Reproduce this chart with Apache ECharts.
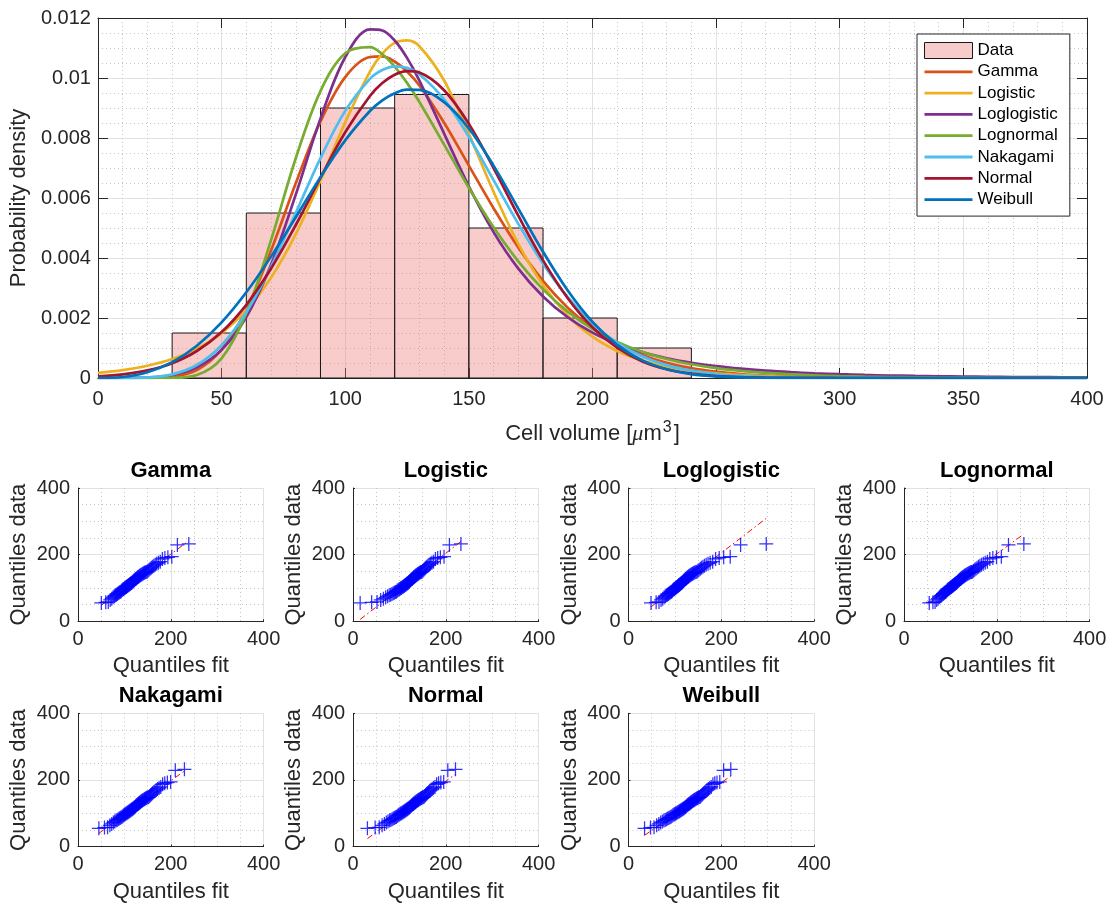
<!DOCTYPE html>
<html><head><meta charset="utf-8">
<script src="https://cdn.jsdelivr.net/npm/echarts@6/dist/echarts.min.js"></script>
<style>html,body{margin:0;padding:0;background:#fff}#c{width:1114px;height:909px}</style>
</head><body><div id="c"></div>
<script>
// ---------------- data ----------------
const binEdges = [30, 60, 90, 120, 150, 180, 210, 240];
const binDensity = [0.0015, 0.0055, 0.009, 0.00945, 0.005, 0.002, 0.001];

const xs = [0,10,20,30,40,50,60,70,80,90,100,110,115,120,125,130,140,150,160,170,180,190,200,210,220,230,240,250,260,270,280,290,300,310,320,330,340,350,360,370,380,390,400];

const pdfGamma = [0,0,0.000002,0.000041,0.000266,0.000945,0.002287,0.004248,0.00649,0.008552,0.01003,0.0107,0.010722,0.01055,0.010217,0.00975,0.00851,0.00708,0.00566,0.00435,0.00324,0.00234,0.00165,0.001135,0.000765,0.000505,0.000328,0.00021,0.000132,0.000082,0.00005,0.00003,0.000018,0.000011,0.000006,0.000004,0.000002,0.000001,0,0,0,0,0];
const pdfLogistic = [0.000168,0.000262,0.000409,0.000634,0.000979,0.001498,0.002261,0.003342,0.004795,0.006584,0.00852,0.010212,0.010811,0.01117,0.011256,0.011058,0.009917,0.008137,0.006206,0.004474,0.003098,0.002085,0.001377,0.000898,0.000581,0.000374,0.00024,0.000153,0.000098,0.000063,0.00004,0.000025,0.000016,0.00001,0.0000066,0.0000042,0.0000027,0.0000017,0.000001,0.0000007,0.0000004,0.0000003,0.0000002];
const pdfLoglogistic = [0,0.0000008,0.000017,0.000101,0.000356,0.000939,0.002034,0.003778,0.006112,0.008647,0.010692,0.01162,0.011585,0.01125,0.01067,0.009914,0.008148,0.006387,0.004864,0.003646,0.002717,0.002024,0.001514,0.001139,0.000863,0.00066,0.000509,0.000395,0.00031,0.000245,0.000195,0.000156,0.000126,0.000102,0.000084,0.000069,0.000057,0.000047,0.00004,0.000033,0.000028,0.000024,0.00002];
const pdfLognormal = [0,0,0,0.000004,0.000098,0.000656,0.002159,0.004597,0.007326,0.009565,0.010826,0.011029,0.010793,0.010381,0.009837,0.0092,0.007779,0.00634,0.005021,0.003887,0.002953,0.002213,0.001639,0.001202,0.000876,0.000634,0.000458,0.000329,0.000236,0.000169,0.000121,0.000086,0.000062,0.000044,0.000032,0.000023,0.000016,0.000012,0.000008,0.000006,0.000004,0.000003,0.000002];
const pdfNakagami = [0,0.0000007,0.000019,0.000122,0.000434,0.001093,0.002189,0.003708,0.005502,0.007331,0.008903,0.009973,0.010265,0.010389,0.010337,0.010126,0.009286,0.008041,0.006595,0.005139,0.003809,0.002693,0.001818,0.001173,0.000726,0.00043,0.000244,0.000133,0.00007,0.000035,0.000017,0.0000079,0.0000035,0.0000015,0.0000006,0.0000002,0.0000001,0,0,0,0,0,0];
const pdfNormal = [0.000055,0.000123,0.000254,0.000494,0.0009,0.00153,0.00244,0.00365,0.0051,0.00668,0.00819,0.0094,0.009831,0.01011,0.010227,0.01018,0.00959,0.00847,0.007,0.00541,0.00392,0.00266,0.00169,0.00101,0.00056,0.00029,0.000143,0.000065,0.000028,0.000011,0.000004,0.0000015,0.0000005,0,0,0,0,0,0,0,0,0,0];
const pdfWeibull = [0,0.000034,0.000193,0.000529,0.001077,0.001854,0.002857,0.004046,0.005359,0.006696,0.007922,0.0089,0.009252,0.009492,0.009612,0.009603,0.009197,0.008317,0.007079,0.005647,0.004207,0.002915,0.00187,0.001104,0.000597,0.000294,0.000132,0.000053,0.000019,0.000006,0.000002,0,0,0,0,0,0,0,0,0,0,0,0];

// sorted sample (quantiles of data)
const dataQuantiles = [55,57,58,64,68,72,75,78,80,82,84,86,88,89,92,94,96,97,99,100,102,103,105,106,108,109,111,112,114,115,117,119,121,123,125,127,128,130,132,133,135,137,138,140,141,143,144,146,147,148,149,152,155,158,161,164,167,170,173,176,179,187,190,192,194,229,232];

// fitted-distribution quantiles (x of each QQ plot)
const fitGamma = [50.3,59.8,65.3,69.4,72.7,75.6,78.2,80.6,82.8,84.8,86.7,88.6,90.3,92.1,93.7,95.3,96.9,98.4,99.9,101.4,102.9,104.3,105.7,107.1,108.5,109.9,111.3,112.7,114.1,115.5,116.9,118.3,119.7,121.1,122.5,124.0,125.4,126.9,128.3,129.9,131.4,133.0,134.6,136.2,137.9,139.6,141.3,143.2,145.0,147.0,149.0,151.1,153.3,155.6,158.1,160.7,163.5,166.4,169.7,173.3,177.3,181.9,187.2,193.7,202.1,214.2,238.8];
const fitLogistic = [15.4,40.2,51.8,59.7,65.6,70.4,74.5,78.0,81.2,84.0,86.6,89.1,91.3,93.4,95.4,97.3,99.2,100.9,102.6,104.2,105.8,107.4,108.9,110.3,111.8,113.2,114.6,116.0,117.3,118.7,120.0,121.3,122.7,124.0,125.3,126.7,128.0,129.3,130.7,132.0,133.4,134.8,136.2,137.7,139.1,140.6,142.2,143.8,145.4,147.1,148.8,150.7,152.6,154.6,156.7,158.9,161.4,164.0,166.8,170.0,173.5,177.6,182.4,188.3,196.2,207.8,232.6];
const fitLoglogistic = [48.5,59.6,65.7,70.2,73.7,76.7,79.4,81.8,84.0,86.0,87.9,89.7,91.4,93.0,94.6,96.1,97.5,99.0,100.4,101.8,103.1,104.4,105.8,107.1,108.4,109.7,110.9,112.2,113.5,114.8,116.1,117.4,118.7,120.0,121.3,122.7,124.0,125.4,126.9,128.3,129.8,131.3,132.8,134.5,136.1,137.9,139.7,141.5,143.4,145.5,147.7,149.8,152.2,154.8,157.5,160.5,163.8,167.4,171.4,176.0,181.4,187.7,195.4,205.1,219.2,241.6,296.9];
const fitLognormal = [54.4,62.4,67.0,70.5,73.4,76.0,78.2,80.3,82.3,84.1,85.9,87.5,89.1,90.7,92.2,93.7,95.2,96.6,98.0,99.4,100.8,102.2,103.5,104.9,106.2,107.6,108.9,110.3,111.6,113.0,114.4,115.7,117.2,118.6,119.9,121.5,122.9,124.4,125.9,127.4,129.1,130.6,132.3,134.0,135.8,137.5,139.4,141.4,143.4,145.5,147.6,150.0,152.4,155.0,157.7,160.6,163.6,167.1,170.8,175.0,179.7,184.9,191.5,199.3,209.8,225.2,258.3];
const fitNakagami = [45.0,57.1,63.8,68.7,72.7,76.2,79.2,81.9,84.4,86.7,88.9,91.0,92.9,94.8,96.7,98.4,100.1,101.8,103.4,105.0,106.6,108.1,109.6,111.1,112.6,114.0,115.5,116.9,118.3,119.8,121.2,122.6,124.1,125.5,126.9,128.4,129.8,131.3,132.7,134.2,135.8,137.3,138.8,140.4,142.1,143.7,145.4,147.1,148.9,150.8,152.6,154.6,156.7,158.8,161.1,163.5,166.0,168.7,171.6,174.8,178.4,182.4,187.0,192.6,199.6,209.7,229.4];
const fitNormal = [31.1,47.7,56.5,62.7,67.6,71.8,75.3,78.6,81.5,84.2,86.7,89.0,91.3,93.4,95.4,97.4,99.2,101.0,102.8,104.5,106.2,107.9,109.5,111.1,112.6,114.1,115.7,117.2,118.7,120.2,121.6,123.1,124.6,126.0,127.4,128.9,130.4,131.8,133.3,134.8,136.3,137.9,139.4,140.9,142.5,144.1,145.8,147.5,149.2,151.0,152.8,154.6,156.6,158.6,160.7,163.0,165.3,167.8,170.5,173.4,176.7,180.2,184.4,189.3,195.5,204.3,220.9];
const fitWeibull = [34.6,47.4,55.0,60.7,65.4,69.4,72.9,76.2,79.1,81.9,84.4,86.9,89.2,91.4,93.5,95.6,97.6,99.5,101.4,103.2,105.0,106.7,108.5,110.1,111.8,113.5,115.1,116.7,118.3,119.8,121.4,123.0,124.5,126.1,127.6,129.2,130.7,132.3,133.9,135.4,137.0,138.6,140.2,141.9,143.5,145.2,146.9,148.7,150.5,152.3,154.2,156.1,158.1,160.2,162.3,164.6,167.0,169.5,172.2,175.1,178.3,181.9,186.0,190.7,196.7,205.0,220.4];

// reference lines (quartile lines), [x, y] end points in data units
const refGamma = [[50.3, 48.1], [238.8, 241.3]];
const refLogistic = [[15.4, 5.7], [232.6, 239.4]];
const refLoglogistic = [[48.5, 43.3], [296.9, 308.9]];
const refLognormal = [[54.4, 54.5], [258.3, 261.8]];
const refNakagami = [[45.0, 39.9], [229.4, 227.1]];
const refNormal = [[31.1, 24.0], [220.9, 217.3]];
const refWeibull = [[34.6, 34.0], [220.4, 211.7]];

const distNames = ['Gamma','Logistic','Loglogistic','Lognormal','Nakagami','Normal','Weibull'];
const distColors = ['#D95319','#EDB120','#7E2F8E','#77AC30','#4DBEEE','#A2142F','#0072BD'];
const pdfs = [pdfGamma,pdfLogistic,pdfLoglogistic,pdfLognormal,pdfNakagami,pdfNormal,pdfWeibull];
const fits = [fitGamma,fitLogistic,fitLoglogistic,fitLognormal,fitNakagami,fitNormal,fitWeibull];
const refs = [refGamma,refLogistic,refLoglogistic,refLognormal,refNakagami,refNormal,refWeibull];

// ---------------- chart ----------------
const FONT = '"Liberation Sans", Arial, Helvetica, sans-serif';
const AX = '#262626';
const GRIDC = '#e2e2e2';
const MINORC = '#c4c4c4';
const PINK = 'rgba(240,120,120,0.38)';
const chart = echarts.init(document.getElementById('c'), null, {renderer: 'canvas', width: 1114, height: 909});

const grids = [{left: 95, top: 18, width: 992, height: 360}];
const qqLayout = [[78, 488], [353, 488], [628.5, 488], [904, 488], [78, 713.3], [353, 713.3], [628.5, 713.3]];
const QW = 185.6, QH = 133.3;
qqLayout.forEach(([l, t]) => grids.push({left: l, top: t, width: QW, height: QH}));

const xAxes = [
  {gridIndex: 0, type: 'value', min: 0, max: 400, interval: 50, position: 'bottom',
   axisLine: {show: true, onZero: false, lineStyle: {color: AX, width: 1}},
   axisTick: {show: true, inside: true, length: 10, lineStyle: {color: AX}},
   axisLabel: {fontSize: 20, color: AX, margin: 11, fontFamily: FONT},
   splitLine: {show: true, lineStyle: {color: GRIDC, width: 1}},
   minorTick: {show: false, splitNumber: 5},
   minorSplitLine: {show: true, lineStyle: {color: MINORC, width: 1, type: [1, 3]}},
   name: 'Cell volume [{mu|μ}m{sup|3}]', nameLocation: 'middle', nameGap: 42,
   nameTextStyle: {fontSize: 22, color: AX, fontFamily: FONT,
     rich: {mu: {fontSize: 22, fontStyle: 'italic', fontFamily: '"Liberation Serif", serif', color: AX},
            sup: {fontSize: 16, color: AX, fontFamily: FONT, verticalAlign: 'top', padding: [0, 2, 12, 1]}}}},
  {gridIndex: 0, type: 'value', min: 0, max: 400, interval: 50, position: 'top',
   axisLine: {show: true, onZero: false, lineStyle: {color: AX, width: 1}},
   axisTick: {show: true, inside: true, length: 10, lineStyle: {color: AX}},
   axisLabel: {show: false}, splitLine: {show: false}}
];
const yAxes = [
  {gridIndex: 0, type: 'value', min: 0, max: 0.012, interval: 0.002, position: 'left',
   axisLine: {show: true, onZero: false, lineStyle: {color: AX, width: 1}},
   axisTick: {show: true, inside: true, length: 10, lineStyle: {color: AX}},
   axisLabel: {fontSize: 20, color: AX, margin: 7, fontFamily: FONT},
   splitLine: {show: true, lineStyle: {color: GRIDC, width: 1}},
   minorTick: {show: false, splitNumber: 4},
   minorSplitLine: {show: true, lineStyle: {color: MINORC, width: 1, type: [1, 3]}},
   name: 'Probability density', nameLocation: 'middle', nameGap: 56,
   nameTextStyle: {fontSize: 22, color: AX, fontFamily: FONT}},
  {gridIndex: 0, type: 'value', min: 0, max: 0.012, interval: 0.002, position: 'right',
   axisLine: {show: true, onZero: false, lineStyle: {color: AX, width: 1}},
   axisTick: {show: true, inside: true, length: 10, lineStyle: {color: AX}},
   axisLabel: {show: false}, splitLine: {show: false}}
];

const titles = [];
const series = [];

// histogram
series.push({
  name: 'Data', type: 'custom', xAxisIndex: 0, yAxisIndex: 0, z: 2,
  data: binDensity.map((d, i) => [binEdges[i], binEdges[i + 1], d]),
  encode: {x: [0, 1], y: 2},
  itemStyle: {color: PINK, borderColor: '#1a1a1a', borderWidth: 1},
  renderItem: function (params, api) {
    const p0 = api.coord([api.value(0), api.value(2)]);
    const p1 = api.coord([api.value(1), 0]);
    return {type: 'rect', shape: {x: p0[0], y: p0[1], width: p1[0] - p0[0], height: p1[1] - p0[1]},
            style: {fill: PINK, stroke: '#1a1a1a', lineWidth: 1}};
  }
});

distNames.forEach((n, k) => {
  series.push({
    name: n, type: 'line', xAxisIndex: 0, yAxisIndex: 0, z: 3,
    data: xs.map((x, i) => [x, pdfs[k][i]]),
    smooth: 0.35, symbol: 'none', showSymbol: false,
    lineStyle: {color: distColors[k], width: 2.7},
    itemStyle: {color: distColors[k]}
  });
});

const cross = 'path://M-0.09,-1 L0.09,-1 L0.09,-0.09 L1,-0.09 L1,0.09 L0.09,0.09 L0.09,1 L-0.09,1 L-0.09,0.09 L-1,0.09 L-1,-0.09 L-0.09,-0.09 Z';
// legend line icon: a thin bar inside a 48x16 box (tiny corner marks fix the box)
const lineIcon = 'path://M0,0 L0.01,0 L0,0.01 Z M0,6.6 L48,6.6 L48,9.4 L0,9.4 Z M48,16 L47.99,16 L48,15.99 Z';

distNames.forEach((n, k) => {
  const ai = k + 2;      // axis index (main chart uses 0 and 1)
  const gi = k + 1;      // grid index
  const [l, t] = qqLayout[k];
  xAxes.push({gridIndex: gi, type: 'value', min: 0, max: 400, interval: 200,
    axisLine: {show: true, onZero: false, lineStyle: {color: AX, width: 1}},
    axisTick: {show: true, inside: true, length: 2, lineStyle: {color: AX}},
    axisLabel: {fontSize: 20, color: AX, margin: 8, fontFamily: FONT},
    splitLine: {show: true, lineStyle: {color: GRIDC, width: 1}},
    minorTick: {show: false, splitNumber: 4},
    minorSplitLine: {show: true, lineStyle: {color: MINORC, width: 1, type: [1, 3]}},
    name: 'Quantiles fit', nameLocation: 'middle', nameGap: 34,
    nameTextStyle: {fontSize: 22, color: AX, fontFamily: FONT}});
  yAxes.push({gridIndex: gi, type: 'value', min: 0, max: 400, interval: 200,
    axisLine: {show: true, onZero: false, lineStyle: {color: AX, width: 1}},
    axisTick: {show: true, inside: true, length: 2, lineStyle: {color: AX}},
    axisLabel: {fontSize: 20, color: AX, margin: 8, fontFamily: FONT},
    splitLine: {show: true, lineStyle: {color: GRIDC, width: 1}},
    minorTick: {show: false, splitNumber: 4},
    minorSplitLine: {show: true, lineStyle: {color: MINORC, width: 1, type: [1, 3]}},
    name: 'Quantiles data', nameLocation: 'middle', nameGap: 48,
    nameTextStyle: {fontSize: 22, color: AX, fontFamily: FONT}});
  titles.push({text: n, left: l + QW / 2, top: t - 28, textAlign: 'center', padding: 0,
    textStyle: {fontSize: 22, fontWeight: 'bold', color: '#000', fontFamily: FONT}});
  series.push({name: 'ref-' + n, type: 'line', xAxisIndex: ai, yAxisIndex: ai, z: 3,
    data: refs[k], symbol: 'none', showSymbol: false,
    lineStyle: {color: '#ff0000', width: 1, type: [6, 3, 1.5, 3]}});
  series.push({name: 'qq-' + n, type: 'scatter', xAxisIndex: ai, yAxisIndex: ai, z: 4,
    data: fits[k].map((x, i) => [x, dataQuantiles[i]]),
    symbol: cross, symbolSize: 14, itemStyle: {color: '#0000ff'}});
});

chart.setOption({
  animation: false,
  backgroundColor: '#fff',
  textStyle: {fontFamily: FONT},
  title: titles,
  grid: grids,
  xAxis: xAxes,
  yAxis: yAxes,
  legend: {
    orient: 'vertical', left: 917, top: 34,
    itemWidth: 48, itemHeight: 16, itemGap: 4.3,
    padding: [8, 12, 8, 7],
    backgroundColor: '#fff', borderColor: AX, borderWidth: 1, borderRadius: 0,
    textStyle: {fontSize: 17, color: '#000', fontFamily: FONT},
    data: [{name: 'Data', icon: 'rect', itemStyle: {color: PINK, borderColor: '#1a1a1a', borderWidth: 1}}]
      .concat(distNames.map((n, k) => ({name: n, icon: lineIcon, itemStyle: {color: distColors[k], borderWidth: 0}})))
  },
  series: series
});
</script>
</body></html>
